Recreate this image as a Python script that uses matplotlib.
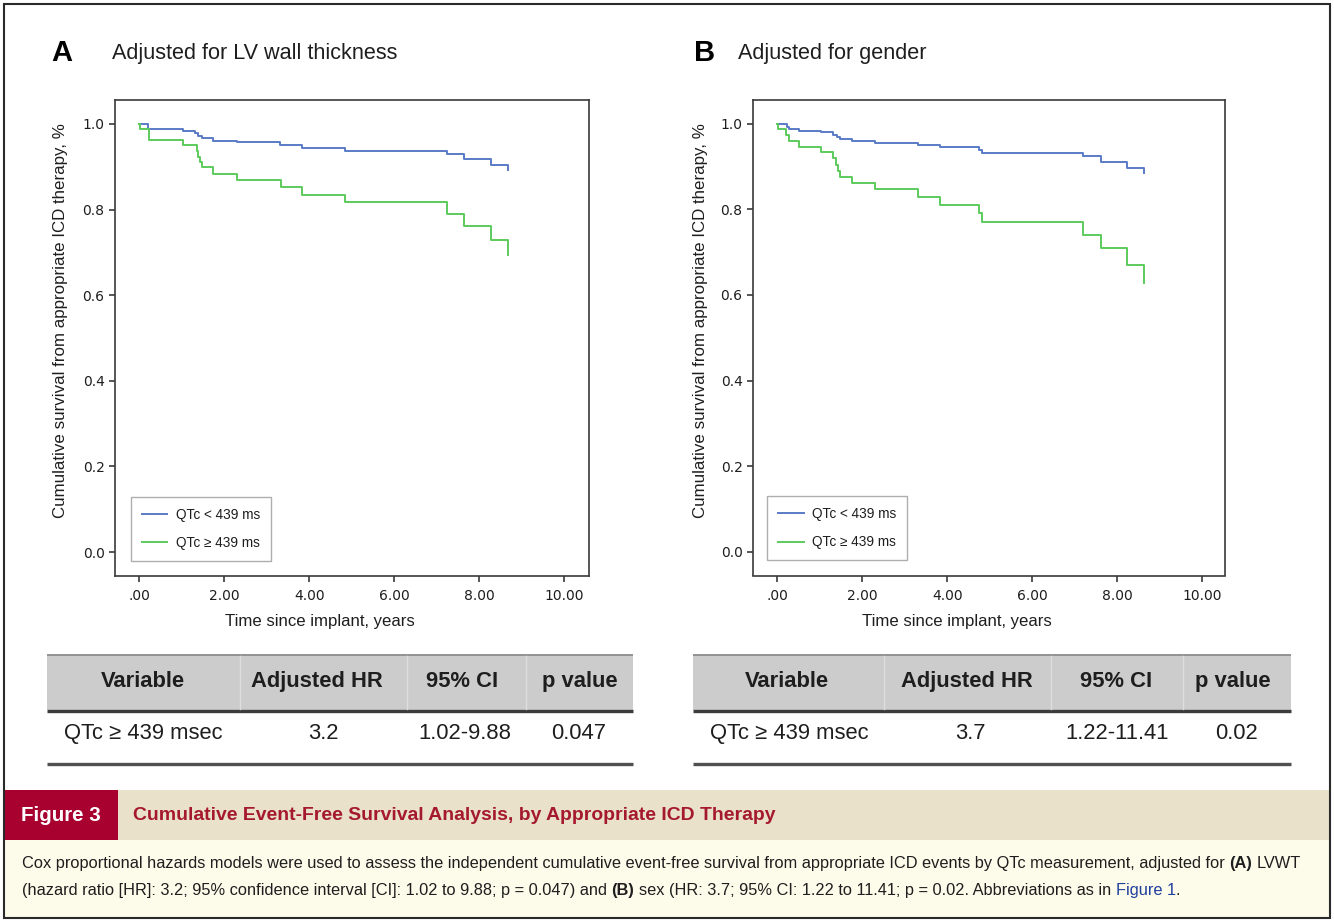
import matplotlib
matplotlib.use('Agg')
import matplotlib.pyplot as plt
from matplotlib import font_manager
from matplotlib.patches import Rectangle

# ---------------- data ----------------
time_a_low = [0.0, 0.21, 1.04, 1.31, 1.39, 1.47, 1.74, 2.29, 3.31, 3.84, 4.84, 7.23, 7.64, 8.27, 8.68]
surv_a_low = [1.0, 0.988, 0.984, 0.979, 0.972, 0.967, 0.961, 0.957, 0.952, 0.945, 0.938, 0.930, 0.918, 0.905, 0.893]
time_a_high = [0.0, 0.02, 0.24, 1.02, 1.35, 1.39, 1.43, 1.47, 1.74, 2.29, 3.33, 3.84, 4.84, 7.25, 7.64, 8.27, 8.68]
surv_a_high = [1.0, 0.988, 0.963, 0.952, 0.938, 0.922, 0.911, 0.899, 0.883, 0.869, 0.852, 0.835, 0.817, 0.790, 0.761, 0.729, 0.695]

time_b_low = [0.0, 0.23, 0.27, 0.52, 1.03, 1.32, 1.40, 1.48, 1.76, 2.30, 3.32, 3.83, 4.76, 4.81, 7.20, 7.61, 8.24, 8.64]
surv_b_low = [1.0, 0.994, 0.988, 0.984, 0.981, 0.975, 0.970, 0.965, 0.961, 0.956, 0.951, 0.945, 0.939, 0.933, 0.924, 0.912, 0.898, 0.885]
time_b_high = [0.0, 0.01, 0.21, 0.27, 0.52, 1.03, 1.32, 1.38, 1.43, 1.48, 1.76, 2.30, 3.31, 3.83, 4.76, 4.81, 7.20, 7.61, 8.24, 8.64]
surv_b_high = [1.0, 0.988, 0.974, 0.959, 0.947, 0.934, 0.920, 0.905, 0.891, 0.877, 0.863, 0.847, 0.830, 0.811, 0.791, 0.771, 0.740, 0.709, 0.670, 0.629]

series_labels = ['QTc < 439 ms', 'QTc \u2265 439 ms']
x_ticks = [0, 2, 4, 6, 8, 10]
x_ticklabels = ['.00', '2.00', '4.00', '6.00', '8.00', '10.00']
y_ticks = [0.0, 0.2, 0.4, 0.6, 0.8, 1.0]
y_ticklabels = ['0.0', '0.2', '0.4', '0.6', '0.8', '1.0']

panel_letters = ['A', 'B']
panel_titles = ['Adjusted for LV wall thickness', 'Adjusted for gender']
xlabel = 'Time since implant, years'
ylabel = 'Cumulative survival from appropriate ICD therapy, %'

table_header = ['Variable', 'Adjusted HR', '95% CI', 'p value']
table_row_a = ['QTc \u2265 439 msec', '3.2', '1.02-9.88', '0.047']
table_row_b = ['QTc \u2265 439 msec', '3.7', '1.22-11.41', '0.02']

fig_label = 'Figure 3'
fig_title = 'Cumulative Event-Free Survival Analysis, by Appropriate ICD Therapy'
caption_line1 = [('Cox proportional hazards models were used to assess the independent cumulative event-free survival from appropriate ICD events by QTc measurement, adjusted for', 'normal', 'k', True),
                 ('(A)', 'bold', 'k', True), ('LVWT', 'normal', 'k', True)]
caption_line2 = [('(hazard ratio [HR]: 3.2; 95% confidence interval [CI]: 1.02 to 9.88; p = 0.047) and', 'normal', 'k', True),
                 ('(B)', 'bold', 'k', True),
                 ('sex (HR: 3.7; 95% CI: 1.22 to 11.41; p = 0.02. Abbreviations as in', 'normal', 'k', True),
                 ('Figure 1', 'normal', 'b', True), ('.', 'normal', 'k', False)]

# ---------------- style ----------------
W, H, DPI = 1334, 921, 100
BLUE = '#5a7bc6'
GREEN = '#5ccb5c'
SPINE = '#3a3a3a'
TXT = '#1e1e1e'
names = {f.name for f in font_manager.fontManager.ttflist}
SANS = ['Liberation Sans', 'DejaVu Sans']
NARROW = ['Liberation Sans Narrow', 'DejaVu Sans'] if 'Liberation Sans Narrow' in names else SANS

plt.rcParams['font.family'] = SANS
fig = plt.figure(figsize=(W / DPI, H / DPI), dpi=DPI)
fig.patch.set_facecolor('white')

# overlay in pixel coordinates
ov = fig.add_axes([0, 0, 1, 1], zorder=0)
ov.set_xlim(0, W)
ov.set_ylim(H, 0)
ov.axis('off')


def make_km_axes(rect_px, xlim, t_low, s_low, t_high, s_high, legend_anchor):
    l, t, r, b = rect_px
    ax = fig.add_axes([l / W, 1 - b / H, (r - l) / W, (b - t) / H], zorder=2)
    ax.set_facecolor('none')
    ax.step(t_low, s_low, where='post', color=BLUE, lw=1.4, label=series_labels[0])
    ax.step(t_high, s_high, where='post', color=GREEN, lw=1.4, label=series_labels[1])
    ax.set_xlim(*xlim)
    ax.set_ylim(-0.056, 1.056)
    ax.set_xticks(x_ticks)
    ax.set_xticklabels(x_ticklabels, family='DejaVu Sans', fontsize=10, color=TXT)
    ax.set_yticks(y_ticks)
    ax.set_yticklabels(y_ticklabels, family='DejaVu Sans', fontsize=10, color=TXT)
    ax.tick_params(axis='x', direction='out', length=4.5, width=1.2, color=SPINE, pad=5)
    ax.tick_params(axis='y', direction='out', length=4.5, width=1.2, color=SPINE, pad=3)
    for sp in ax.spines.values():
        sp.set_color(SPINE)
        sp.set_linewidth(1.2)
    leg = ax.legend(loc='lower left', bbox_to_anchor=legend_anchor, borderaxespad=0,
                    fontsize=9.8, frameon=True, fancybox=False, edgecolor='#9a9a9a',
                    borderpad=0.8, labelspacing=1.05, handlelength=1.9, handletextpad=0.6)
    leg.get_frame().set_linewidth(1.0)
    for txt in leg.get_texts():
        txt.set_color(TXT)
    return ax


axA = make_km_axes((115, 100, 589, 576), (-0.57, 10.58),
                   time_a_low, surv_a_low, time_a_high, surv_a_high, (0.033, 0.032))
axB = make_km_axes((753, 100, 1225, 575.5), (-0.57, 10.54),
                   time_b_low, surv_b_low, time_b_high, surv_b_high, (0.03, 0.032))

# panel titles and axis labels
for (lx, tx, ylx, xlx), letter, title in zip([(51, 112, 61, 320), (694, 738, 701, 957)],
                                              panel_letters, panel_titles):
    ov.text(lx, 53, letter, fontsize=21, fontweight='bold', ha='left', va='center', color='black')
    ov.text(tx, 54, title, fontsize=15.6, ha='left', va='center', color=TXT)
    ov.text(ylx, 321, ylabel, fontsize=12.2, rotation=90, ha='center', va='center', color=TXT)
    ov.text(xlx, 621, xlabel, fontsize=12.1, ha='center', va='center', color=TXT)


# tables
def draw_table(x0, x1, seps, hcenters, rcenters, row):
    ov.add_patch(Rectangle((x0, 655), x1 - x0, 55, fc='#cccccc', ec='none'))
    ov.plot([x0, x1], [655, 655], color='#8c8c8c', lw=1.3, solid_capstyle='butt')
    ov.plot([x0, x1], [710.5, 710.5], color='#3c3c3c', lw=2.4, solid_capstyle='butt')
    ov.plot([x0, x1], [764, 764], color='#505050', lw=2.4, solid_capstyle='butt')
    for s in seps:
        ov.plot([s, s], [656, 709], color='#dedede', lw=1.0)
    for c, h in zip(hcenters, table_header):
        ov.text(c, 681, h, ha='center', va='center', fontsize=15.8, fontweight='bold', color=TXT)
    for c, v in zip(rcenters, row):
        ov.text(c, 733, v, ha='center', va='center', fontsize=15.8, color=TXT, family=SANS)


draw_table(47, 633, [240, 407, 526], [143, 317, 462, 580], [143, 323, 465, 579], table_row_a)
draw_table(693, 1291, [884, 1051, 1183], [787, 967, 1116, 1233], [789, 970, 1117, 1236], table_row_b)

# caption block
ov.add_patch(Rectangle((4, 790), 1326, 50, fc='#e9e1ca', ec='none'))
ov.add_patch(Rectangle((4, 790), 114, 50, fc='#a8002f', ec='none'))
ov.add_patch(Rectangle((4, 840), 1326, 78, fc='#fdfbea', ec='none'))
ov.add_patch(Rectangle((4, 4), 1326, 914, fill=False, ec='#2a2a2a', lw=1.5))

renderer = fig.canvas.get_renderer()


def text_width(s, size, family, weight='normal'):
    t = ov.text(0, 0, s, fontsize=size, family=family, fontweight=weight)
    w = t.get_window_extent(renderer).width
    t.remove()
    return w


def runs_width(runs, size, family):
    sp = text_width('a a', size, family) - text_width('aa', size, family)
    total = 0
    for i, (s, wt, c, gap) in enumerate(runs):
        total += text_width(s, size, family, wt) + (sp if (gap and i > 0) else 0)
    return total


def draw_runs(x, y, runs, size, family):
    colors = {'k': '#1e1e1e', 'b': '#1f3f9e'}
    sp = text_width('a a', size, family) - text_width('aa', size, family)
    cx = x
    for i, (s, wt, c, gap) in enumerate(runs):
        if gap and i > 0:
            cx += sp
        t = ov.text(cx, y, s, fontsize=size, family=family, fontweight=wt,
                    color=colors[c], ha='left', va='center')
        cx += t.get_window_extent(renderer).width


fs_label = 15 * 80 / text_width(fig_label, 15, NARROW, 'bold')
ov.text(61, 815, fig_label, fontsize=fs_label, family=NARROW, fontweight='bold',
        color='white', ha='center', va='center')
fs_title = 14 * 645 / text_width(fig_title, 14, NARROW, 'bold')
ov.text(133, 815, fig_title, fontsize=fs_title, family=NARROW, fontweight='bold',
        color='#a5192f', ha='left', va='center')

fs_cap = 11 * 1278 / runs_width(caption_line1, 11, NARROW)
draw_runs(22, 863, caption_line1, fs_cap, NARROW)
draw_runs(22, 890, caption_line2, fs_cap, NARROW)

fig.savefig('out.png', dpi=DPI, facecolor='white')
